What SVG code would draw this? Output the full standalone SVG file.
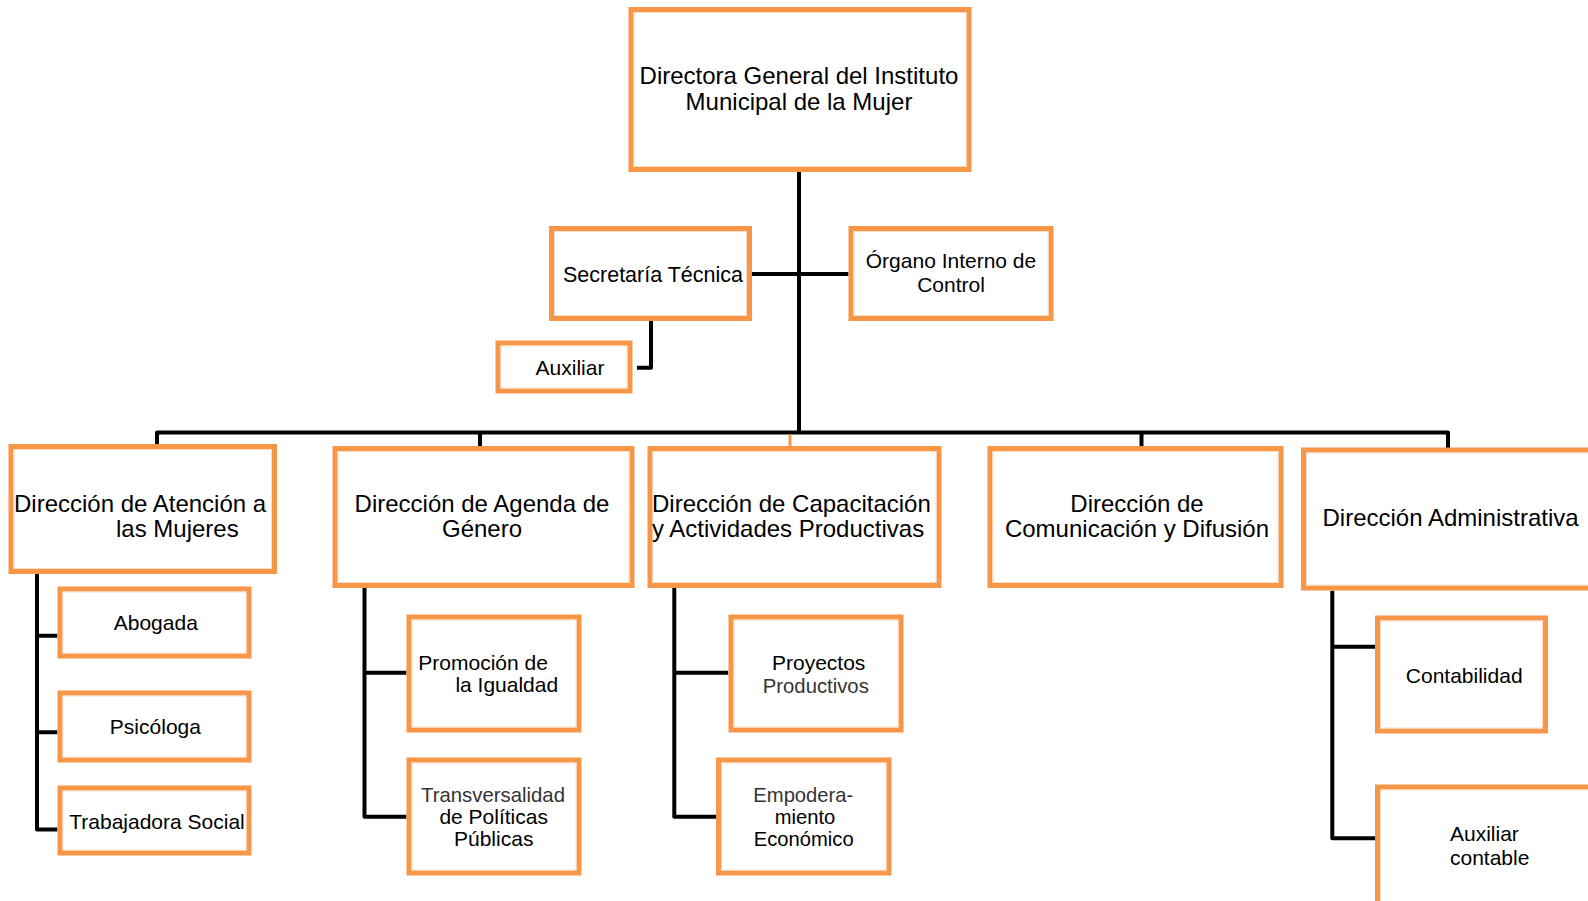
<svg xmlns="http://www.w3.org/2000/svg" width="1588" height="901" viewBox="0 0 1588 901">
<style>
  .box { fill: #ffffff; stroke: #F79646; stroke-width: 5; }
  .inner { fill: none; stroke: #FBDCC4; stroke-width: 1; }
  .ln { fill: none; stroke: #000000; stroke-width: 4; stroke-linejoin: round; }
  .stub { fill: none; stroke: #F79646; stroke-width: 3; }
  text { font-family: "Liberation Sans", Arial, sans-serif; fill: #000; }
  .big { font-size: 24px; }
  .sm { font-size: 21px; }
  .c { text-anchor: middle; }
  .g { fill: #333333; }
</style>
<rect width="1588" height="901" fill="#ffffff"/>

<g id="connectors">
  <path class="ln" d="M799 172 V432.5"/>
  <path class="ln" d="M751.7 274 H848.5"/>
  <path class="ln" d="M651 320.7 V367.7 H637"/>
  <path class="ln" d="M157 446 V432.5 H1448 V448"/>
  <path class="ln" d="M480 432.5 V446"/>
  <path class="ln" d="M1141.5 432.5 V446"/>
  <path class="stub" d="M790 434.5 V446"/>
  <path class="ln" d="M37 574 V829.5 H57.4 M37 635.7 H57.4 M37 732.3 H57.4"/>
  <path class="ln" d="M364.5 588 V816.7 H406.4 M364.5 672.7 H406.4"/>
  <path class="ln" d="M674.3 588 V816.7 H716 M674.3 672.7 H728.3"/>
  <path class="ln" d="M1332.3 590.7 V838.3 H1375 M1332.3 646.7 H1375"/>
</g>

<g id="directora">
  <rect class="box" x="631" y="9.5" width="338" height="160"/>
  <rect class="inner" x="634" y="12.5" width="332" height="154"/>
  <text class="big c" x="799" y="83.5">Directora General del Instituto</text>
  <text class="big c" x="799" y="109.5">Municipal de la Mujer</text>
</g>

<g id="secretaria">
  <rect class="box" x="551.5" y="228.5" width="198" height="90"/>
  <rect class="inner" x="554.5" y="231.5" width="192" height="84"/>
  <text class="c" x="653" y="281.7" style="font-size:21.5px">Secretaría Técnica</text>
</g>

<g id="organo">
  <rect class="box" x="851" y="228.5" width="200" height="90"/>
  <rect class="inner" x="854" y="231.5" width="194" height="84"/>
  <text class="sm c" x="951" y="268.3">Órgano Interno de</text>
  <text class="sm c" x="951" y="291.7">Control</text>
</g>

<g id="auxiliar">
  <rect class="box" x="498" y="343" width="132" height="48"/>
  <rect class="inner" x="501" y="346" width="126" height="42"/>
  <text class="sm c" x="570" y="375">Auxiliar</text>
</g>

<g id="dir-atencion">
  <rect class="box" x="11" y="446.5" width="263.5" height="125"/>
  <rect class="inner" x="14" y="449.5" width="257.5" height="119"/>
  <text class="big" x="14" y="511.5">Dirección de Atención a</text>
  <text class="big" x="116" y="537">las Mujeres</text>
</g>

<g id="dir-agenda">
  <rect class="box" x="335" y="448.5" width="297" height="137"/>
  <rect class="inner" x="338" y="451.5" width="291" height="131"/>
  <text class="big c" x="482" y="511.5">Dirección de Agenda de</text>
  <text class="big c" x="482" y="537">Género</text>
</g>

<g id="dir-capacitacion">
  <rect class="box" x="650" y="448.5" width="289" height="137"/>
  <rect class="inner" x="653" y="451.5" width="283" height="131"/>
  <text class="big" x="652" y="511.5">Dirección de Capacitación</text>
  <text class="big" x="652" y="537">y Actividades Productivas</text>
</g>

<g id="dir-comunicacion">
  <rect class="box" x="990" y="448.5" width="291" height="137"/>
  <rect class="inner" x="993" y="451.5" width="285" height="131"/>
  <text class="big c" x="1137" y="511.5">Dirección de</text>
  <text class="big c" x="1137" y="537">Comunicación y Difusión</text>
</g>

<g id="dir-administrativa">
  <rect class="box" x="1303.5" y="450" width="300" height="138"/>
  <rect class="inner" x="1306.5" y="453" width="294" height="132"/>
  <text class="big" x="1322.5" y="526">Dirección Administrativa</text>
</g>

<g id="abogada">
  <rect class="box" x="60" y="589" width="189" height="67"/>
  <rect class="inner" x="63" y="592" width="183" height="61"/>
  <text class="sm c" x="155.8" y="630">Abogada</text>
</g>

<g id="psicologa">
  <rect class="box" x="60" y="693" width="189" height="67"/>
  <rect class="inner" x="63" y="696" width="183" height="61"/>
  <text class="sm c" x="155.4" y="734">Psicóloga</text>
</g>

<g id="trabajadora">
  <rect class="box" x="60" y="788" width="189" height="65"/>
  <rect class="inner" x="63" y="791" width="183" height="59"/>
  <text class="sm c" x="157" y="829">Trabajadora Social</text>
</g>

<g id="promocion">
  <rect class="box" x="409" y="617" width="170" height="113"/>
  <rect class="inner" x="412" y="620" width="164" height="107"/>
  <text class="sm" x="418.3" y="670">Promoción de</text>
  <text class="sm" x="455.4" y="692.3">la Igualdad</text>
</g>

<g id="transversalidad">
  <rect class="box" x="409" y="760" width="170" height="113"/>
  <rect class="inner" x="412" y="763" width="164" height="107"/>
  <text class="sm c g" x="493" y="801.7" textLength="144" lengthAdjust="spacingAndGlyphs">Transversalidad</text>
  <text class="sm c" x="493.7" y="824">de Políticas</text>
  <text class="sm c" x="493.7" y="845.7">Públicas</text>
</g>

<g id="proyectos">
  <rect class="box" x="731" y="617" width="170" height="113"/>
  <rect class="inner" x="734" y="620" width="164" height="107"/>
  <text class="sm c" x="818.7" y="670">Proyectos</text>
  <text class="c g" x="815.8" y="692.7" style="font-size:20.3px">Productivos</text>
</g>

<g id="empoderamiento">
  <rect class="box" x="718.5" y="760" width="170.5" height="113"/>
  <rect class="inner" x="721.5" y="763" width="164.5" height="107"/>
  <text class="c g" x="803.3" y="801.7" style="font-size:20.2px">Empodera-</text>
  <text class="c" x="805" y="824" style="font-size:20.2px">miento</text>
  <text class="c" x="803.7" y="846" style="font-size:20.2px">Económico</text>
</g>

<g id="contabilidad">
  <rect class="box" x="1377.5" y="618" width="168" height="113"/>
  <rect class="inner" x="1380.5" y="621" width="162" height="107"/>
  <text class="sm c" x="1464.2" y="682.7">Contabilidad</text>
</g>

<g id="auxiliar-contable">
  <rect class="box" x="1377.5" y="787" width="250" height="200"/>
  <rect class="inner" x="1380.5" y="790" width="244" height="194"/>
  <text class="sm" x="1450" y="841">Auxiliar</text>
  <text class="sm" x="1450" y="865">contable</text>
</g>
</svg>
